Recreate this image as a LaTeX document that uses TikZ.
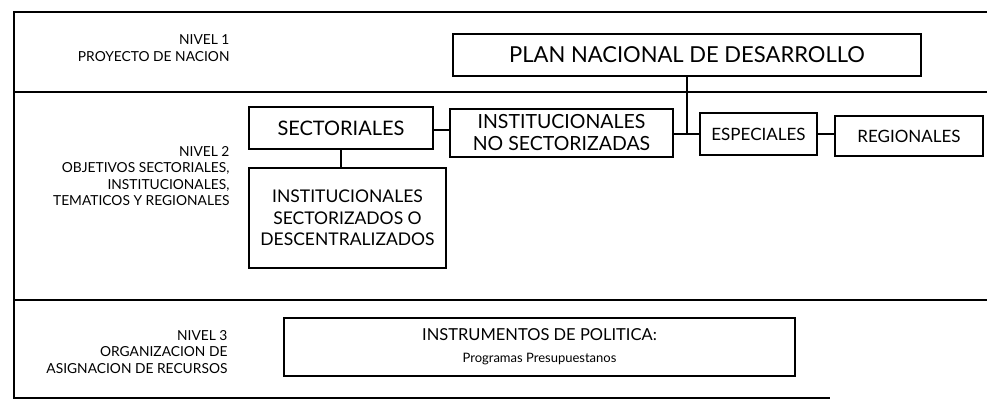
\documentclass[tikz,border=0pt]{standalone}
\usepackage{fontspec}
\setmainfont{Lato}
\begin{document}
\begin{tikzpicture}[x=1pt,y=-1pt,
  box/.style={draw,line width=1.2pt,inner sep=0pt,align=center},
  lvl/.style={anchor=east,align=right,font=\fontsize{13.8}{16.5}\selectfont},
  conn/.style={line width=1.3pt},
  frame/.style={line width=1.2pt}]
\useasboundingbox (0,0) rectangle (987,414);
% frame
\draw[frame] (987,12) -- (14,12) -- (14,398) -- (830,398);
\draw[frame] (14,92) -- (987,92);
\draw[frame] (14,300) -- (987,300);
% level labels
\node[lvl] (l1) at (233,48) {NIVEL 1\\PROYECTO DE NACION};
\node[lvl] (l2) at (233,176) {NIVEL 2\\OBJETIVOS SECTORIALES,\\INSTITUCIONALES,\\TEMATICOS Y REGIONALES};
\node[lvl] (l3) at (231,352) {NIVEL 3\\ORGANIZACION DE\\ASIGNACION DE RECURSOS};
% boxes
\node[box,minimum width=468,minimum height=42,font=\fontsize{22}{26}\selectfont] (pnd) at (687,55) {PLAN NACIONAL DE DESARROLLO};
\node[box,minimum width=184,minimum height=42,font=\fontsize{20}{24}\selectfont] (sec) at (341,128) {SECTORIALES};
\node[box,minimum width=223,minimum height=48,font=\fontsize{19.5}{22}\selectfont] (ins) at (561.5,133) {INSTITUCIONALES\\NO SECTORIZADAS};
\node[box,minimum width=117,minimum height=42,font=\fontsize{17}{20}\selectfont] (esp) at (758.5,134) {ESPECIALES};
\node[box,minimum width=148,minimum height=40,font=\fontsize{17}{20}\selectfont] (reg) at (909,136) {REGIONALES};
\node[box,minimum width=197,minimum height=100,font=\fontsize{17.5}{21.5}\selectfont] (iss) at (347.5,218) {INSTITUCIONALES\\SECTORIZADOS O\\DESCENTRALIZADOS};
\node[box,minimum width=511,minimum height=58,font=\fontsize{16.5}{22}\selectfont] (ipol) at (539.5,347) {INSTRUMENTOS DE POLITICA:\\{\fontsize{13}{22}\selectfont Programas Presupuestanos}};
% connectors
\coordinate (j) at (pnd.south |- esp.west);
\draw[conn] (pnd.south) -- (j);
\draw[conn] (ins.east |- j) -- (esp.west);
\draw[conn] ([yshift=-2pt]sec.east) -- ([yshift=-2pt]sec.east -| ins.west);
\draw[conn] (esp.east) -- (esp.east -| reg.west);
\draw[conn] (sec.south) -- (sec.south |- iss.north);
\end{tikzpicture}
\end{document}
